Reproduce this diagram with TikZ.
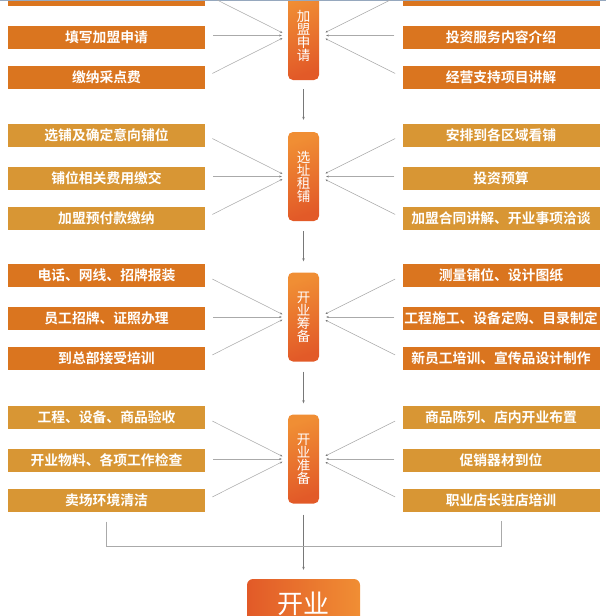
\documentclass[tikz,border=0pt]{standalone}
\usepackage{fontspec}
\setmainfont{Noto Sans CJK SC}[BoldFont={Noto Sans CJK SC Bold}]
\usetikzlibrary{arrows.meta,calc}
\definecolor{oA}{RGB}{218,117,31}
\definecolor{oB}{RGB}{216,150,52}
\definecolor{cTop}{RGB}{240,142,52}
\definecolor{cBot}{RGB}{226,90,40}
\definecolor{lineG}{RGB}{170,170,170}
\definecolor{arrG}{RGB}{120,120,120}
\begin{document}
\begin{tikzpicture}[x=1pt,y=-1pt,
  side/.style={rectangle,minimum width=197pt,minimum height=23pt,inner sep=0pt,
    text=white,font=\bfseries\fontsize{13.8}{13.8}\selectfont},
  sideA/.style={side,fill=oA},
  sideB/.style={side,fill=oB},
  stage/.style={rectangle,rounded corners=5pt,minimum width=31pt,minimum height=89pt,
    inner sep=0pt,text=white,align=center,
    font=\fontsize{13.5}{13}\selectfont,
    shading=axis,top color=cTop,bottom color=cBot,shading angle=20},
  fin/.style={rectangle,rounded corners=6pt,minimum width=113pt,minimum height=50pt,
    inner sep=0pt,text=white,font=\fontsize{26}{26}\selectfont,
    left color=cBot,right color=cTop},
  conn/.style={draw=lineG,line width=0.55pt,shorten <=8pt,
    -{Stealth[length=2.5pt,width=2pt,color=arrG]}},
  vflow/.style={draw=arrG,line width=0.55pt,
    -{Stealth[length=3pt,width=2.5pt]}},
  brk/.style={draw=lineG,line width=0.7pt}
]
\useasboundingbox (0,0) rectangle (606,616);

% ---------- stage 1
\node[stage] (s1) at (303.5,35.5) {加\\盟\\申\\请};
\node[sideA] (l11) at (106.5,-6) {};
\node[sideA] (l12) at (106.5,37) {填写加盟申请};
\node[sideA] (l13) at (106.5,77) {缴纳采点费};
\node[sideA] (r11) at (501,-6) {};
\node[sideA] (r12) at (501,37) {投资服务内容介绍};
\node[sideA] (r13) at (501,77) {经营支持项目讲解};

% ---------- stage 2
\node[stage] (s2) at (303.5,176.5) {选\\址\\租\\铺};
\node[sideB] (l21) at (106.5,135) {选铺及确定意向铺位};
\node[sideB] (l22) at (106.5,178) {铺位相关费用缴交};
\node[sideB] (l23) at (106.5,218) {加盟预付款缴纳};
\node[sideB] (r21) at (501,135) {安排到各区域看铺};
\node[sideB] (r22) at (501,178) {投资预算};
\node[sideB] (r23) at (501,218) {加盟合同讲解、开业事项洽谈};

% ---------- stage 3
\node[stage] (s3) at (303.5,317) {开\\业\\筹\\备};
\node[sideA] (l31) at (106.5,275.5) {电话、网线、招牌报装};
\node[sideA] (l32) at (106.5,318.5) {员工招牌、证照办理};
\node[sideA] (l33) at (106.5,358.5) {到总部接受培训};
\node[sideA] (r31) at (501,275.5) {测量铺位、设计图纸};
\node[sideA] (r32) at (501,318.5) {工程施工、设备定购、目录制定};
\node[sideA] (r33) at (501,358.5) {新员工培训、宣传品设计制作};

% ---------- stage 4
\node[stage] (s4) at (303.5,459) {开\\业\\准\\备};
\node[sideB] (l41) at (106.5,417.5) {工程、设备、商品验收};
\node[sideB] (l42) at (106.5,460.5) {开业物料、各项工作检查};
\node[sideB] (l43) at (106.5,500.5) {卖场环境清洁};
\node[sideB] (r41) at (501,417.5) {商品陈列、店内开业布置};
\node[sideB] (r42) at (501,460.5) {促销器材到位};
\node[sideB] (r43) at (501,500.5) {职业店长驻店培训};

% ---------- final
\node[fin] (f) at (303.5,604) {开业};

% top thin border line
\draw[draw={rgb,255:red,150;green,168;blue,190},line width=0.8pt] (0,0.4) -- (606,0.4);

% ---------- converging connectors
\foreach \s in {1,2,3,4}{
  \foreach \i in {1,3}{
    \draw[conn,shorten >=6pt] (l\s\i.east) -- (s\s.west);
    \draw[conn,shorten >=7pt] (r\s\i.west) -- (s\s.east);
  }
  \draw[conn,shorten >=6pt] (l\s2.east |- s\s.west) -- (s\s.west);
  \draw[conn,shorten >=7pt] (r\s2.west |- s\s.east) -- (s\s.east);
}

% ---------- vertical flow
\draw[vflow,shorten <=9pt,shorten >=12pt] (s1.south) -- (s2.north);
\draw[vflow,shorten <=10pt,shorten >=11pt] (s2.south) -- (s3.north);
\draw[vflow,shorten <=10pt,shorten >=11pt] (s3.south) -- (s4.north);
\draw[vflow,shorten <=11pt,shorten >=9pt] (s4.south) -- (f.north);

% ---------- bracket
\coordinate (bl) at ($(l43.south)+(0,9.5)$);
\coordinate (br) at ($(r43.south)+(0,9)$);
\draw[brk] (bl) -- (bl |- 0,546) -- (br |- 0,546) -- (br);
\end{tikzpicture}
\end{document}
